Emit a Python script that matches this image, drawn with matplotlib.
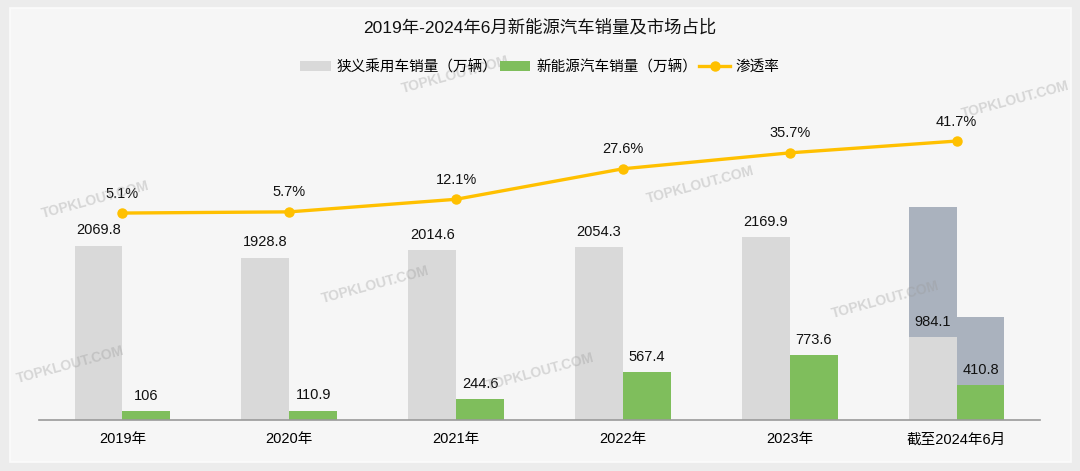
import matplotlib.pyplot as plt
from matplotlib.patches import Rectangle
import numpy as np

plt.rcParams['font.family'] = ['Liberation Sans', 'Noto Sans CJK SC', 'DejaVu Sans']

categories = ['2019年', '2020年', '2021年', '2022年', '2023年', '截至2024年6月']
passenger = [2069.8, 1928.8, 2014.6, 2054.3, 2169.9, 984.1]
nev = [106, 110.9, 244.6, 567.4, 773.6, 410.8]
rate = [5.1, 5.7, 12.1, 27.6, 35.7, 41.7]
# slate bars behind the 2024 group (full-year outlook)
passenger_est = [0, 0, 0, 0, 0, 2533]
nev_est = [0, 0, 0, 0, 0, 1220]

gray = '#d9d9d9'
green = '#7fbe5c'
slate = '#aab2be'
yellow = '#ffc000'

fig = plt.figure(figsize=(10.8, 4.71), dpi=100)
fig.patch.set_facecolor('#ececec')
fig.patches.append(Rectangle((10 / 1080, 9 / 471), 1061 / 1080, 454 / 471,
                             transform=fig.transFigure, facecolor='#f6f6f6',
                             edgecolor='#fbfbfb', lw=1.2, zorder=-5))

ax = fig.add_axes([39 / 1080, 51 / 471, 1001 / 1080, 360 / 471])
ax.set_facecolor('none')
x = np.arange(len(categories))
w = 0.287

for i in range(len(x)):
    if passenger_est[i]:
        ax.bar(x[i] - w / 2, passenger_est[i], w, color=slate, zorder=1)
    if nev_est[i]:
        ax.bar(x[i] + w / 2, nev_est[i], w, color=slate, zorder=1)

ax.bar(x - w / 2, passenger, w, color=gray, zorder=2, label='狭义乘用车销量（万辆）')
ax.bar(x + w / 2, nev, w, color=green, zorder=2, label='新能源汽车销量（万辆）')

for xi, v in zip(x, passenger):
    ax.annotate(f'{v:g}', (xi - w / 2, v), xytext=(0, 11), textcoords='offset points',
                ha='center', va='center', fontsize=10.5, color='#111111', zorder=4)
for xi, v in zip(x, nev):
    ax.annotate(f'{v:g}', (xi + w / 2, v), xytext=(0, 11), textcoords='offset points',
                ha='center', va='center', fontsize=10.5, color='#111111', zorder=4)

ax.set_xlim(-0.5, 5.5)
ax.set_ylim(0, 4276)
ax.set_xticks(x)
ax.set_xticklabels(categories, fontsize=10.5)
ax.tick_params(axis='x', length=0, pad=9)
ax.set_yticks([])
for s in ['top', 'right', 'left']:
    ax.spines[s].set_visible(False)
ax.spines['bottom'].set_color('#9a9a9a')
ax.spines['bottom'].set_linewidth(1.2)

ax2 = ax.twinx()
ax2.plot(x, rate, color=yellow, lw=2.4, marker='o', ms=6.5, zorder=5,
         label='渗透率')
for xi, v in zip(x, rate):
    ax2.annotate(f'{v}%', (xi, v), xytext=(0, 14), textcoords='offset points',
                 ha='center', va='center', fontsize=10.5, color='#111111')
ax2.set_ylim(-100.1, 82.9)
ax2.set_yticks([])
for s in ax2.spines.values():
    s.set_visible(False)

# watermarks
marks = [(95, 200), (70, 365), (375, 285), (455, 75), (700, 185), (885, 300),
         (1015, 100), (540, 372)]
for mx, my in marks:
    fig.text(mx / 1080, 1 - my / 471, 'TOPKLOUT.COM', fontsize=10, fontweight='bold',
             color='#9a9a9a', alpha=0.35, rotation=15, ha='center', va='center',
             zorder=1)

fig.text(0.5, 1 - 27 / 471, '2019年-2024年6月新能源汽车销量及市场占比',
         fontsize=12.5, ha='center', va='center', color='#111111')

h1, l1 = ax.get_legend_handles_labels()
h2, l2 = ax2.get_legend_handles_labels()
fig.legend(h1 + h2, l1 + l2, loc='center', bbox_to_anchor=(0.5, 1 - 67 / 471),
           ncol=3, frameon=False, fontsize=10.5, handlelength=2.1, handleheight=0.6,
           handletextpad=0.4, columnspacing=0.15)

fig.savefig('out.png', dpi=100, facecolor=fig.get_facecolor())
